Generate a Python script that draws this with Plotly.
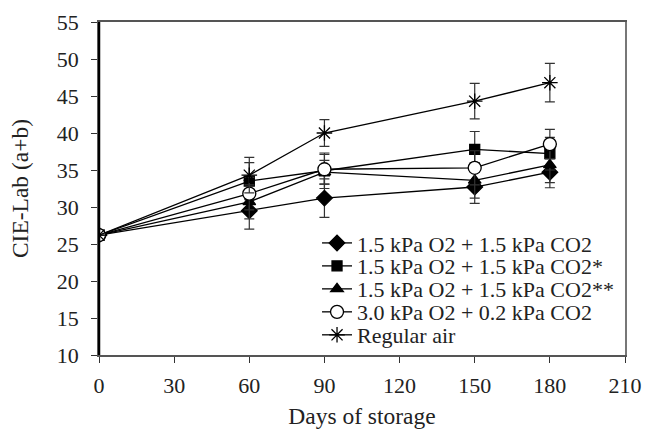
import plotly.graph_objects as go

days = [0, 60, 90, 150, 180]
names = ["1.5 kPa O2 + 1.5 kPa CO2", "1.5 kPa O2 + 1.5 kPa CO2*",
         "1.5 kPa O2 + 1.5 kPa CO2**", "3.0 kPa O2 + 0.2 kPa CO2", "Regular air"]
diamond = [26.2, 29.5, 31.2, 32.7, 34.7]
diamond_err = [0, 2.5, 2.6, 2.2, 2.1]
square = [26.2, 33.5, 34.9, 37.8, 37.2]
square_err = [0, 2.5, 2.4, 2.4, 2.2]
triangle = [26.2, 30.7, 34.7, 33.6, 35.7]
triangle_err = [0, 2.3, 1.6, 2.4, 2.4]
circle = [26.2, 31.8, 35.1, 35.3, 38.5]
circle_err = [0, 2.2, 2.0, 2.3, 2.0]
star = [26.2, 34.3, 40.0, 44.3, 46.8]
star_err = [0, 2.4, 1.8, 2.4, 2.6]

series = [
    (diamond, diamond_err, "diamond", 12, "black"),
    (square, square_err, "square", 10, "black"),
    (triangle, triangle_err, "triangle-up", 11, "black"),
    (circle, circle_err, "circle", 13, "white"),
    (star, star_err, "asterisk-open", 13, "black"),
]
legend_ids = ["legend", "legend2", "legend3", "legend4", "legend5"]
legend_y = [0.336, 0.267, 0.198, 0.129, 0.060]

font = "Liberation Serif"
fig = go.Figure()
for name, lid, (vals, err, sym, size, fill) in zip(names, legend_ids, series):
    fig.add_trace(go.Scatter(
        x=days, y=vals, name=name, mode="lines+markers", legend=lid,
        line=dict(color="black", width=1.3),
        marker=dict(symbol=sym, size=size, color=fill,
                    line=dict(color="black", width=1.3)),
        error_y=dict(type="data", array=err, visible=True,
                     color="#333333", thickness=1.2, width=5),
    ))

legends = {}
for lid, ly in zip(legend_ids, legend_y):
    legends[lid] = dict(x=0.4145, y=ly, xanchor="left", yanchor="middle",
                        bgcolor="rgba(0,0,0,0)", font=dict(size=22, family=font),
                        itemwidth=30)

fig.update_layout(
    template="none",
    width=646, height=429,
    margin=dict(l=99, r=21, t=22, b=74, autoexpand=False),
    paper_bgcolor="white", plot_bgcolor="white",
    font=dict(family=font, size=23, color="#222222"),
    showlegend=True,
    **legends,
    xaxis=dict(range=[0, 210], tickvals=[0, 30, 60, 90, 120, 150, 180, 210],
               showgrid=False, zeroline=False, automargin=False,
               showline=True, linecolor="#555555", linewidth=1.5, mirror=True,
               ticks="outside", ticklen=6, tickcolor="#333333",
               tickfont=dict(size=22), ticklabelstandoff=4,
               title=dict(text="Days of storage", standoff=13, font=dict(size=23.5))),
    yaxis=dict(range=[10, 55], tickvals=list(range(10, 60, 5)),
               showgrid=False, zeroline=False, automargin=False,
               showline=True, linecolor="#777777", linewidth=1.5, mirror=True,
               ticks="outside", ticklen=6, tickcolor="#333333",
               tickfont=dict(size=22), ticklabelstandoff=8,
               title=dict(text="CIE-Lab (a+b)", standoff=22, font=dict(size=23.5))),
)
fig.add_shape(type="line", xref="paper", yref="paper", x0=0, x1=0, y0=0, y1=1,
              line=dict(color="black", width=2.5))
fig.write_html("out.html", config={"displayModeBar": False},
               post_script="document.body.style.margin='0';document.body.style.overflow='hidden';")
